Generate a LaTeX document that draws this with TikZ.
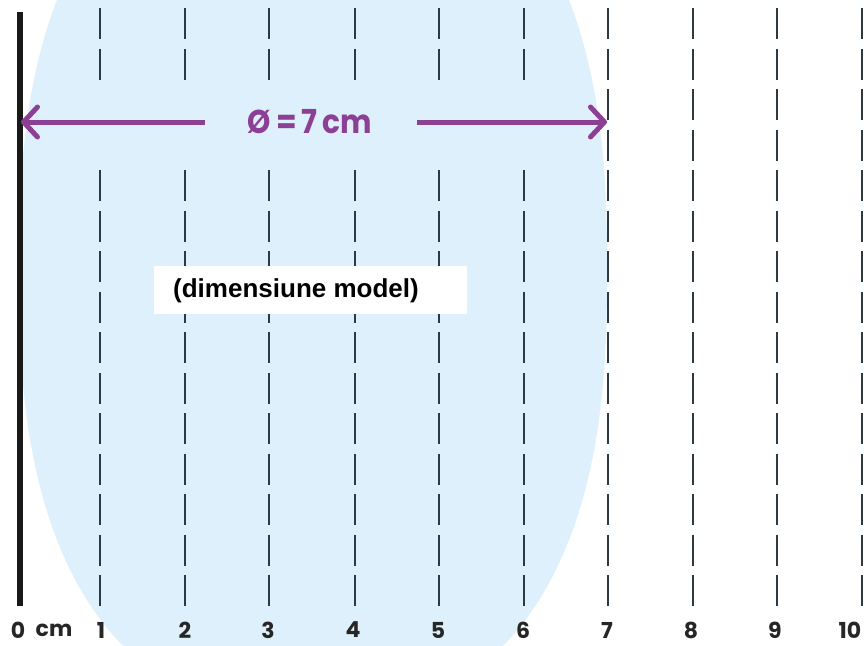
\documentclass[tikz,border=0pt]{standalone}
\usepackage{fontspec}
\newfontfamily\pop{Poppins}
\newfontfamily\lib{Liberation Sans}
\usetikzlibrary{arrows.meta}
\definecolor{bluebg}{HTML}{DDF0FB}
\definecolor{purp}{HTML}{8C3F95}
\definecolor{dashc}{HTML}{2E3A42}
\tikzset{
  dashseg/.style={draw=dashc, line width=1.8pt},
  dimarrow/.style={draw=purp, line width=5pt, -{Straight Barb[length=14pt,width=30pt,round]}},
  numlbl/.style={font=\pop\bfseries\fontsize{22}{22}\selectfont, text=black!85, inner sep=0pt},
  dimlbl/.style={font=\pop\bfseries\fontsize{33}{33}\selectfont, text=purp, inner sep=0pt},
  modelbox/.style={fill=white, draw=none, minimum width=313pt, minimum height=48pt, inner sep=0pt},
  modeltxt/.style={font=\lib\bfseries\fontsize{26}{26}\selectfont, inner sep=0pt, anchor=west}
}
\begin{document}
\begin{tikzpicture}[x=1pt,y=-1pt]
\useasboundingbox (0,0) rectangle (866,645);
\begin{scope}
\clip (0,0) rectangle (866,645);
\fill[bluebg] plot[domain=0:360, samples=300, variable=\t]
  ({313+294*sign(cos(\t))*pow(abs(cos(\t)),0.82)}, {270+445*sign(sin(\t))*pow(abs(sin(\t)),0.8)}) -- cycle;
\end{scope}
% dashed guide lines
\foreach \c/\xx in {1/100,2/185,3/269,4/355,5/439,6/524}{
  \foreach \k in {0,1,4,5,6,7,8,9,10,11,12,13,14}{
    \draw[dashseg] (\xx,{8+40.5*\k}) -- (\xx,{39+40.5*\k});
  }
}
\foreach \c/\xx in {7/608,8/693,9/777,10/862}{
  \foreach \k in {0,...,14}{
    \draw[dashseg] (\xx,{8+40.5*\k}) -- (\xx,{39+40.5*\k});
  }
}
% bar
\draw[line width=6pt, black!90] (20,12) -- (20,606);
% dimension
\node[dimlbl] (dim) at (310,122) {\scalebox{0.9}[1]{Ø\,=\,7\,cm}};
\coordinate (lend) at (21,122);
\coordinate (rend) at (607,122);
\coordinate (lstart) at (205,122);
\coordinate (rstart) at (417,122);
\draw[dimarrow] (lstart) -- (lend);
\draw[dimarrow] (rstart) -- (rend);
% model label
\node[modelbox] (box) at (310.5,290) {};
\node[modeltxt] (mt) at (173,291) {(dimensiune model)};
% numbers
\node[numlbl] (n0) at (18,630) {0};
\node[numlbl] (ncm) at (54,630) {cm};
\node[numlbl] (n1) at (101,630) {1};
\node[numlbl] (n2) at (185,630) {2};
\node[numlbl] (n3) at (268,630) {3};
\node[numlbl] (n4) at (353,630) {4};
\node[numlbl] (n5) at (438,630) {5};
\node[numlbl] (n6) at (523,630) {6};
\node[numlbl] (n7) at (607,630) {7};
\node[numlbl] (n8) at (691,630) {8};
\node[numlbl] (n9) at (775,630) {9};
\node[numlbl] (n10) at (850,630) {10};
\end{tikzpicture}
\end{document}
